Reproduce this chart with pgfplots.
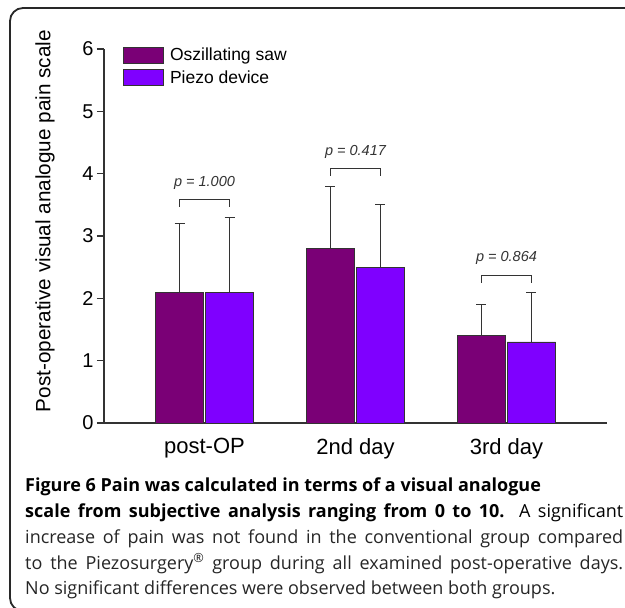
\documentclass[border=0pt]{standalone}
\usepackage{fontspec}
\setmainfont{Liberation Sans}
\newfontfamily\capfont{Open Sans}
\usepackage{pgfplots}
\pgfplotsset{compat=1.18}
\definecolor{saw}{RGB}{122,0,118}
\definecolor{piezo}{RGB}{127,0,255}
\definecolor{axgray}{RGB}{51,51,51}
\definecolor{framegray}{RGB}{40,40,40}

\begin{document}
\begin{tikzpicture}
\useasboundingbox (0pt,0pt) rectangle (625pt,-608pt);
\fill[white] (0pt,0pt) rectangle (625pt,-608pt);
\draw[framegray, line width=1.8pt, rounded corners=13pt] (640pt,-8pt) -- (10pt,-8pt) -- (10pt,-611pt) -- (40pt,-611pt);

\begin{axis}[
  at={(104pt,-423pt)}, anchor=south west,
  scale only axis, width=503pt, height=374pt,
  ybar, bar width=48.5pt,
  xmin=-0.6656, xmax=2.6656, ymin=0, ymax=6,
  axis x line*=bottom, axis y line*=left,
  axis line style={axgray, line width=1.2pt},
  xtick={0,1,2}, xticklabels={post-OP,2nd day,3rd day},
  x tick style={draw=none},
  x tick label style={font=\fontsize{22}{26}\selectfont, yshift=-5pt},
  ytick={0,1,2,3,4,5,6},
  tick align=outside, major tick length=7pt,
  y tick style={axgray, line width=1.2pt},
  y tick label style={font=\fontsize{20}{24}\selectfont},
  /pgf/number format/assume math mode=true,
  ylabel={Post-operative visual analogue pain scale},
  every axis y label/.style={at={(axis description cs:-0.1173,0.54)}, rotate=90, anchor=center, font=\fontsize{20.7}{24}\selectfont},
  legend style={at={(axis description cs:0.0378,1.008)}, anchor=north west, draw=none, fill=none,
    font=\fontsize{17.5}{20}\selectfont, row sep=4pt, column sep=4pt, inner sep=0pt},
  legend cell align=left,
  error bars/y dir=plus, error bars/y explicit,
  error bars/error bar style={axgray, line width=1pt},
  error bars/error mark options={rotate=90, axgray, line width=1pt, mark size=5pt},
]
\addplot[bar shift=-25pt, fill=saw, draw=axgray, line width=0.8pt,
  legend image code/.code={\draw[fill=saw, draw=axgray, line width=0.8pt] (0pt,-7.75pt) rectangle (40pt,7.75pt);}]
  coordinates {(0,2.1) +- (0,1.1) (1,2.8) +- (0,1.0) (2,1.4) +- (0,0.5)};
\addlegendentry{Oszillating saw}
\addplot[bar shift=25pt, fill=piezo, draw=axgray, line width=0.8pt,
  legend image code/.code={\draw[fill=piezo, draw=axgray, line width=0.8pt] (0pt,-7.75pt) rectangle (40pt,7.75pt);}]
  coordinates {(0,2.1) +- (0,1.2) (1,2.5) +- (0,1.0) (2,1.3) +- (0,0.8)};
\addlegendentry{Piezo device}

% significance brackets
\draw[axgray, line width=0.8pt] ([xshift=-25pt]axis cs:0,3.47) -- ([xshift=-25pt]axis cs:0,3.58) -- ([xshift=25pt]axis cs:0,3.58) -- ([xshift=25pt]axis cs:0,3.47);
\draw[axgray, line width=0.8pt] ([xshift=-25pt]axis cs:1,3.97) -- ([xshift=-25pt]axis cs:1,4.08) -- ([xshift=25pt]axis cs:1,4.08) -- ([xshift=25pt]axis cs:1,3.97);
\draw[axgray, line width=0.8pt] ([xshift=-25pt]axis cs:2,2.25) -- ([xshift=-25pt]axis cs:2,2.36) -- ([xshift=25pt]axis cs:2,2.36) -- ([xshift=25pt]axis cs:2,2.25);
\node[font=\itshape\fontsize{14.5}{17}\selectfont, text=axgray] at (axis cs:0,3.85) {p = 1.000};
\node[font=\itshape\fontsize{14.5}{17}\selectfont, text=axgray] at (axis cs:1,4.35) {p = 0.417};
\node[font=\itshape\fontsize{14.5}{17}\selectfont, text=axgray] at (axis cs:2,2.65) {p = 0.864};
\end{axis}

% caption
\begin{scope}[every node/.style={anchor=base west, inner sep=0pt, font=\capfont\fontsize{18}{22}\selectfont}]
\node at (25pt,-491pt) {\bfseries Figure 6 Pain was calculated in terms of a visual analogue};
\node at (25pt,-517pt) {\makebox[598pt][s]{\bfseries scale from subjective analysis ranging from 0 to 10.\mdseries{} A significant}};
\node[text=black!85] at (25pt,-543pt) {\makebox[598pt][s]{increase of pain was not found in the conventional group compared}};
\node[text=black!85] at (25pt,-569pt) {\makebox[598pt][s]{to the Piezosurgery\textsuperscript{®} group during all examined post-operative days.}};
\node[text=black!85] at (25pt,-594pt) {No significant differences were observed between both groups.};
\end{scope}
\end{tikzpicture}
\end{document}
